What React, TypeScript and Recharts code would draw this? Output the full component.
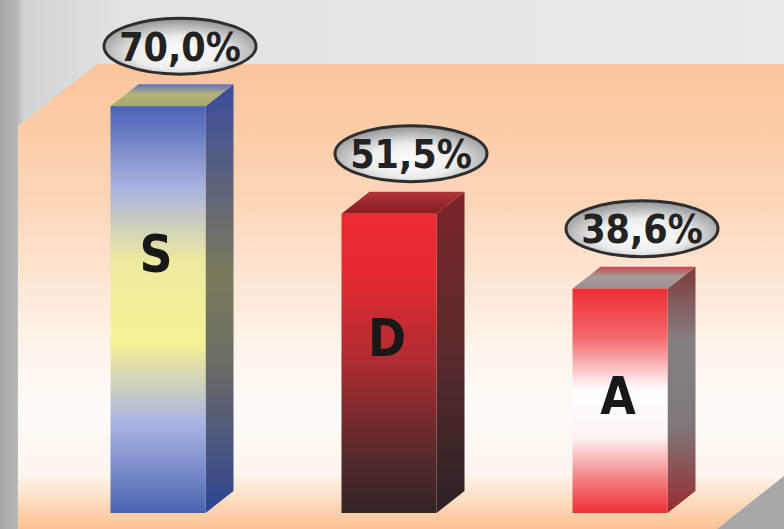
import { BarChart, Bar, XAxis, YAxis, LabelList } from 'recharts';

const categories = ['S', 'D', 'A'];
const values = [70.0, 51.5, 38.6];
const percentLabels = ['70,0%', '51,5%', '38,6%'];

const data = categories.map((cat, i) => ({ cat, value: values[i], pct: percentLabels[i] }));

const W = 784;
const H = 529;
const DX = 28;
const DY = 22;

// face gradients per bar: front, side, top
const palettes = [
    {
        front: [[0, '#4a62b6'], [0.2, '#a9b2de'], [0.38, '#eeeaa0'], [0.58, '#f6f194'], [0.78, '#aab4e2'], [1, '#4a64b2']],
        side: [[0, '#3a4c9c'], [0.45, '#7c7a5c'], [0.65, '#6c6c64'], [1, '#2e4494']],
        top: [[0, '#5f6cc0'], [0.45, '#b4b47a'], [1, '#a6a76c']],
    },
    {
        front: [[0, '#ee2a32'], [0.2, '#e52a32'], [0.5, '#ac2c30'], [0.8, '#582a2c'], [1, '#342526']],
        side: [[0, '#7c2428'], [0.5, '#5a2a2c'], [1, '#2c2224']],
        top: [[0, '#b0353a'], [1, '#861c20']],
    },
    {
        front: [[0, '#ef2c34'], [0.22, '#f26a6e'], [0.45, '#ffffff'], [0.66, '#fff4f4'], [0.86, '#f27a7e'], [1, '#ee3036']],
        side: [[0, '#7e3a3c'], [0.3, '#858080'], [0.65, '#807878'], [1, '#962a30']],
        top: [[0, '#c6464a'], [0.45, '#a89a9a'], [1, '#9a9090']],
    },
];

function Stops({ stops }: { stops: any[] }) {
    return (
        <>
            {stops.map(([o, c], i) => (
                <stop key={i} offset={o} stopColor={c} />
            ))}
        </>
    );
}

function Box3D(props: any) {
    const { x, y, width, height, index } = props;
    const p = palettes[index % palettes.length];
    const id = `bx${index}`;
    const side = `${x + width},${y} ${x + width + DX},${y - DY} ${x + width + DX},${y + height - DY} ${x + width},${y + height}`;
    const top = `${x},${y} ${x + DX},${y - DY} ${x + width + DX},${y - DY} ${x + width},${y}`;
    return (
        <g>
            <defs>
                <linearGradient id={`${id}f`} x1="0" y1="0" x2="0" y2="1">
                    <Stops stops={p.front} />
                </linearGradient>
                <linearGradient id={`${id}s`} x1="0" y1="0" x2="0" y2="1">
                    <Stops stops={p.side} />
                </linearGradient>
                <linearGradient id={`${id}t`} x1="0" y1="0" x2="0" y2="1">
                    <Stops stops={p.top} />
                </linearGradient>
            </defs>
            <polygon points={side} fill={`url(#${id}s)`} />
            <polygon points={top} fill={`url(#${id}t)`} />
            <rect x={x} y={y} width={width} height={height} fill={`url(#${id}f)`} />
        </g>
    );
}

function boxOf(props: any) {
    const vb = props.viewBox && props.viewBox.width !== undefined ? props.viewBox : props;
    return { x: Number(vb.x), y: Number(vb.y), width: Number(vb.width), height: Number(vb.height) };
}

function PctBubble(props: any) {
    const { x, y, width } = boxOf(props);
    const cx = x + width / 2 + 22;
    const cy = y - 60;
    return (
        <g>
            <defs>
                <radialGradient id={`bub${props.index}`} cx="50%" cy="62%" r="60%">
                    <stop offset="0" stopColor="#ffffff" />
                    <stop offset="0.5" stopColor="#ececec" />
                    <stop offset="1" stopColor="#929496" />
                </radialGradient>
            </defs>
            <ellipse cx={cx} cy={cy} rx={76} ry={28} fill={`url(#bub${props.index})`} stroke="#2e2e2e" strokeWidth={3} />
            <text
                x={cx}
                y={cy + 1}
                textAnchor="middle"
                dominantBaseline="central"
                fontFamily="'DejaVu Sans Condensed', 'DejaVu Sans', sans-serif"
                fontWeight="bold"
                fontSize={39}
                fill="#222"
            >
                {props.value}
            </text>
        </g>
    );
}

function Letter(props: any) {
    const { x, y, width, height } = boxOf(props);
    return (
        <text
            x={x + width / 2 - 2}
            y={y + 57 + height * 0.225}
            textAnchor="middle"
            dominantBaseline="central"
            fontFamily="'DejaVu Sans Condensed', 'DejaVu Sans', sans-serif"
            fontWeight="bold"
            fontSize={51}
            fill="#181818"
        >
            {props.value}
        </text>
    );
}

function Backdrop() {
    return (
        <svg width={W} height={H} style={{ position: 'absolute', left: 0, top: 0 }}>
            <defs>
                <linearGradient id="bgGray" x1="0" y1="0" x2="1" y2="0">
                    <stop offset="0" stopColor="#a6a8a8" />
                    <stop offset="0.021" stopColor="#b4b6b6" />
                    <stop offset="0.03" stopColor="#d0d3d3" />
                    <stop offset="0.15" stopColor="#e0e3e3" />
                    <stop offset="1" stopColor="#e8ebeb" />
                </linearGradient>
                <linearGradient id="wall" x1="0" y1="0" x2="0" y2="1">
                    <stop offset="0" stopColor="#fcc49a" />
                    <stop offset="0.3" stopColor="#fdd6b8" />
                    <stop offset="0.6" stopColor="#fff3ea" />
                    <stop offset="0.74" stopColor="#fffbf8" />
                    <stop offset="0.88" stopColor="#fff6ee" />
                    <stop offset="0.95" stopColor="#fdd8b8" />
                    <stop offset="1" stopColor="#fbc190" />
                </linearGradient>
            </defs>
            <rect x={0} y={0} width={W} height={H} fill="url(#bgGray)" />
            <path d="M 97 64 L 784 64 L 784 476 L 717 529 L 18 529 L 18 126 Z" fill="url(#wall)" />
            <polygon points="784,476 784,529 717,529" fill="#a8a8a8" />
        </svg>
    );
}

export default function App() {
    return (
        <div style={{ position: 'absolute', left: 0, top: 0, width: W, height: H }}>
            <Backdrop />
            <div style={{ position: 'absolute', left: 0, top: 0 }}>
                <BarChart width={W} height={H} data={data} margin={{ top: 48, right: 48.5, left: 42.5, bottom: 16 }}>
                    <XAxis dataKey="cat" hide />
                    <YAxis hide domain={[0, 80]} />
                    <Bar dataKey="value" barSize={95} shape={(p: any) => <Box3D {...p} />} isAnimationActive={false}>
                        <LabelList dataKey="pct" content={(p: any) => <PctBubble {...p} />} />
                        <LabelList dataKey="cat" content={(p: any) => <Letter {...p} />} />
                    </Bar>
                </BarChart>
            </div>
        </div>
    );
}
